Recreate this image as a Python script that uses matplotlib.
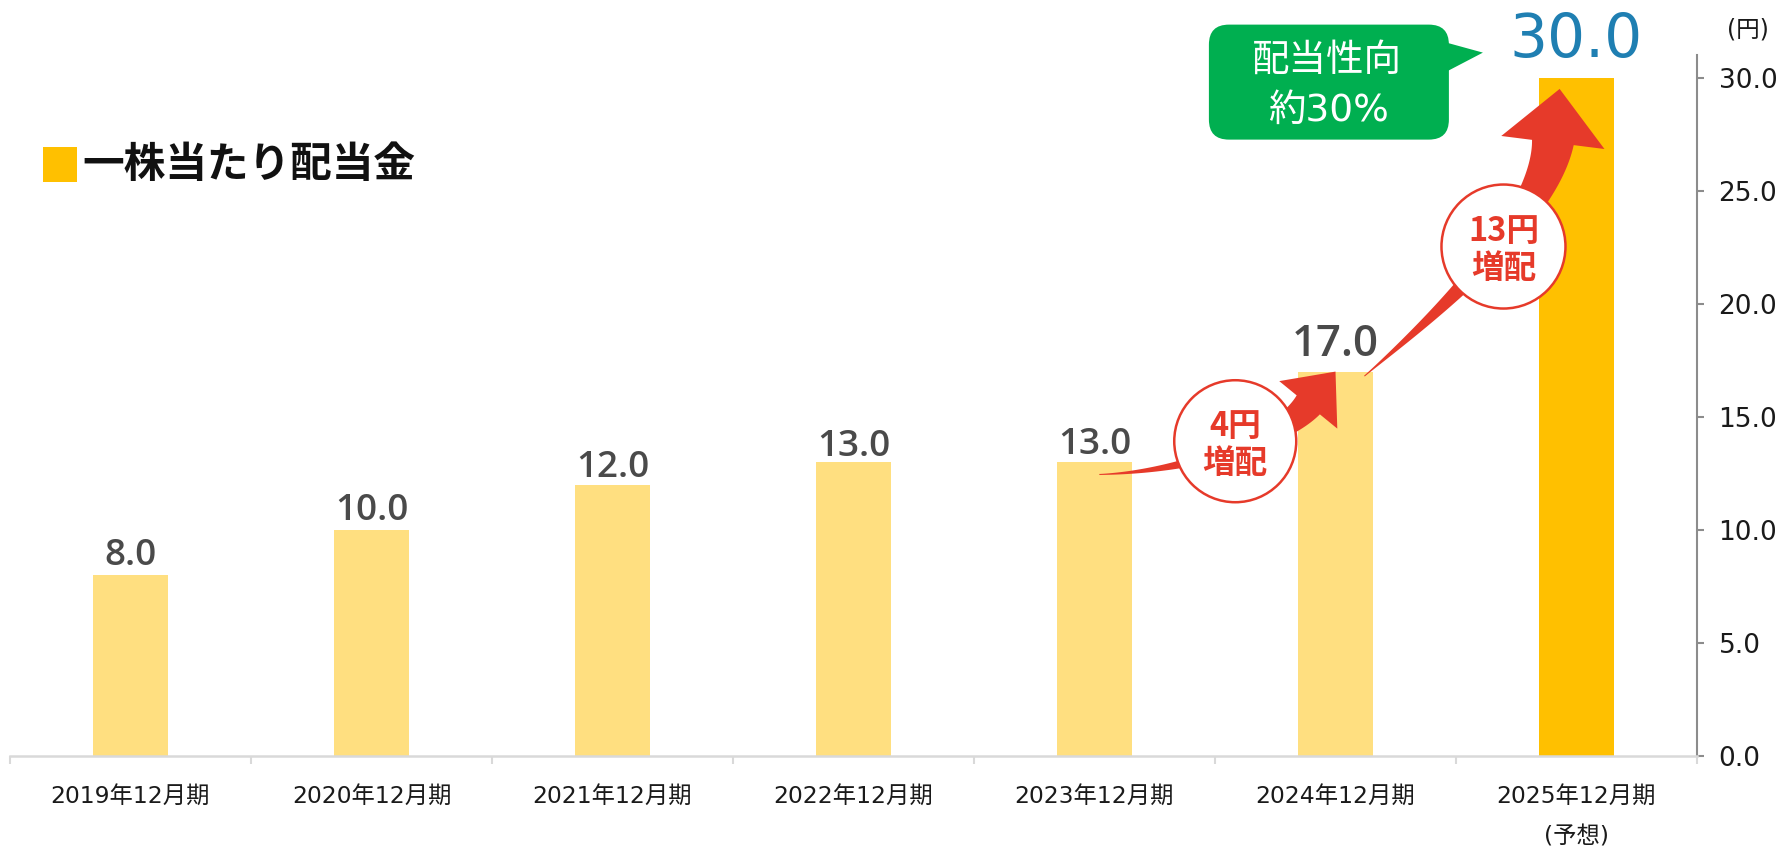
import numpy as np
import matplotlib
matplotlib.use("Agg")
import matplotlib.pyplot as plt
from matplotlib.patches import Polygon, Circle, FancyBboxPatch, Rectangle
from matplotlib.transforms import IdentityTransform

plt.rcParams['font.family'] = ['DejaVu Sans', 'Noto Sans CJK JP']

# ---- data ----
periods = ['2019年12月期', '2020年12月期', '2021年12月期', '2022年12月期',
           '2023年12月期', '2024年12月期', '2025年12月期']
dividends = [8.0, 10.0, 12.0, 13.0, 13.0, 17.0, 30.0]
forecast_note = '(予想)'
y_ticks = [0, 5, 10, 15, 20, 25, 30]
title = '一株当たり配当金'
unit = '(円)'
payout_text = ['配当性向', '約30%']
increase_text = [['4円', '増配'], ['13円', '増配']]

# ---- styles ----
W, H, DPI = 1789, 848, 100
PX = 72 / DPI                      # points per pixel
LIGHT = '#FFDF80'
GOLD = '#FFC000'
RED = '#E63A2A'
GREEN = '#00AF50'
BLUE = '#1F7FB2'
CJK = 'Noto Sans CJK JP'
MIXED = ['DejaVu Sans', CJK]
label_gap = [10, 10, 8, 6, 8, 16]          # px above bar top
label_size = [26.5, 26.5, 26.5, 26.5, 26.5, 31.5]

fig = plt.figure(figsize=(W / DPI, H / DPI), dpi=DPI)
ax = fig.add_axes([10 / W, 1 - 756 / H, (1697 - 10) / W, (756 - 55) / H])

x = np.arange(len(periods))
colors = [LIGHT] * (len(periods) - 1) + [GOLD]
ax.bar(x, dividends, width=0.31, color=colors, zorder=2)
ax.set_xlim(-0.5, len(periods) - 0.5)
ax.set_ylim(0, 31)

# x axis
ax.set_xticks(x)
ax.set_xticklabels(periods, fontsize=16.8, color='#1a1a1a')
ax.tick_params(axis='x', which='major', length=0, pad=21)
ax.set_xticks(np.arange(-0.5, len(periods), 1), minor=True)
ax.tick_params(axis='x', which='minor', length=6, width=1.5, color='#d9d9d9')
ax.text(x[-1], (756 - 837) / 701, forecast_note, transform=ax.get_xaxis_transform(),
        ha='center', va='center', fontsize=16.8, color='#1a1a1a')

# y axis on the right
ax.yaxis.tick_right()
ax.set_yticks(y_ticks)
ax.set_yticklabels([f'{v:.1f}' for v in y_ticks])
ax.tick_params(axis='y', length=5, width=1.5, color='#8c8c8c', pad=10.5,
               labelsize=19, labelcolor='#1a1a1a')
for s in ['left', 'top']:
    ax.spines[s].set_visible(False)
ax.spines['right'].set_color('#8c8c8c')
ax.spines['right'].set_linewidth(1.5)
ax.spines['bottom'].set_color('#d9d9d9')
ax.spines['bottom'].set_linewidth(1.8)

# value labels
for i in range(len(dividends) - 1):
    ax.annotate(f'{dividends[i]:.1f}', (x[i], dividends[i]),
                xytext=(0, label_gap[i] * PX), textcoords='offset points',
                ha='center', va='baseline', fontsize=label_size[i],
                family='Open Sans', fontweight='semibold', color='#4a4a4a', zorder=6)
ax.annotate(f'{dividends[-1]:.1f}', (x[-1], dividends[-1]), xytext=(0, 21 * PX),
            textcoords='offset points', ha='center', va='baseline',
            fontsize=43, family='DejaVu Sans', color=BLUE)


def to_px(pt):
    return ax.transData.transform(pt)


def swoosh(tail, tip, start_dir, end_dir, head_len, head_w, w_end, k1, k2, w_start=1.0):
    p0 = to_px(tail)
    tip_p = to_px(tip)
    d1 = np.array(start_dir, float)
    d1 /= np.linalg.norm(d1)
    d2 = np.array(end_dir, float)
    d2 /= np.linalg.norm(d2)
    p3 = tip_p - d2 * head_len
    p1 = p0 + d1 * k1
    p2 = p3 - d2 * k2
    t = np.linspace(0, 1, 100)[:, None]
    pts = (1 - t) ** 3 * p0 + 3 * (1 - t) ** 2 * t * p1 + 3 * (1 - t) * t ** 2 * p2 + t ** 3 * p3
    der = 3 * (1 - t) ** 2 * (p1 - p0) + 6 * (1 - t) * t * (p2 - p1) + 3 * t ** 2 * (p3 - p2)
    tang = der / np.linalg.norm(der, axis=1, keepdims=True)
    nrm = np.column_stack([-tang[:, 1], tang[:, 0]])
    w = (w_start + (w_end - w_start) * t[:, 0] ** 1.3) / 2
    left = pts + nrm * w[:, None]
    right = pts - nrm * w[:, None]
    n_end = np.array([-d2[1], d2[0]])
    head = np.array([p3 + n_end * head_w / 2, tip_p, p3 - n_end * head_w / 2])
    poly = np.vstack([left, head, right[::-1]])
    ax.add_patch(Polygon(poly, closed=True, transform=IdentityTransform(),
                         facecolor=RED, edgecolor='none', zorder=4, clip_on=False))


def badge(center, r, lines):
    c = to_px(center)
    ax.add_patch(Circle(c, r, transform=IdentityTransform(), facecolor='white',
                        edgecolor=RED, lw=1.8, zorder=5, clip_on=False))
    for txt, dy in zip(lines, [15, -22]):
        ax.annotate(txt, center, xytext=(0, dy * PX), textcoords='offset points',
                    ha='center', va='center', fontsize=23.5, family=CJK,
                    fontweight='bold', color=RED, zorder=6)


# arrows showing the increase
swoosh((4.02, dividends[4] - 0.55), (5.0, dividends[5]), (1, 0.03), (0.63, 0.77),
       head_len=43, head_w=75, w_end=30, k1=80, k2=50)
swoosh((5.12, dividends[5] - 0.2), (5.93, dividends[6] - 0.5), (0.76, 0.65), (0.125, 0.99),
       head_len=54, head_w=104, w_end=42, k1=80, k2=80)
badge((4.584, 13.92), 61, increase_text[0])
badge((5.697, 22.53), 62, increase_text[1])

# payout ratio callout, placed relative to the last bar top
a = to_px((x[-1], dividends[-1]))
box = FancyBboxPatch((a[0] - 367.6, a[1] - 62), 240, 115,
                     boxstyle='round,pad=0,rounding_size=20', transform=IdentityTransform(),
                     facecolor=GREEN, edgecolor='none', zorder=7, clip_on=False)
ax.add_patch(box)
tail = np.array([[a[0] - 130, a[1] + 35], [a[0] - 93.6, a[1] + 25], [a[0] - 130, a[1] + 6]])
ax.add_patch(Polygon(tail, closed=True, transform=IdentityTransform(), facecolor=GREEN,
                     edgecolor='none', zorder=7, clip_on=False))
for txt, dx, dy in zip(payout_text, [-249.6, -247.6], [17, -33]):
    ax.annotate(txt, (x[-1], dividends[-1]), xytext=(dx * PX, dy * PX),
                textcoords='offset points', ha='center', va='center', fontsize=27,
                family=MIXED, color='white', zorder=8)

# legend-like title and unit
fig.add_artist(Rectangle((43 / W, 1 - 182 / H), 34 / W, 35 / H, transform=fig.transFigure,
                         facecolor=GOLD, edgecolor='none'))
fig.text(82 / W, 1 - 165 / H, title, ha='left', va='center', fontsize=30,
         family=CJK, fontweight='bold', color='#111111')
fig.text(1748 / W, 1 - 30 / H, unit, ha='center', va='center', fontsize=17, color='#1a1a1a')

fig.savefig('out.png', dpi=DPI)
